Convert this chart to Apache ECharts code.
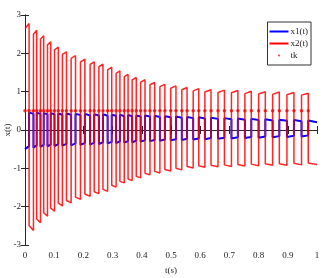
<!DOCTYPE html>
<html>
<head>
<meta charset="utf-8">
<script src="https://cdn.jsdelivr.net/npm/echarts@6/dist/echarts.min.js"></script>
<style>html,body{margin:0;padding:0;background:#fff}#c{width:331px;height:278px}</style>
</head>
<body>
<div id="c"></div>
<script>
// switching instants (s): rise of x2 (start of high segment) and fall of x2
const riseT = [0, 0.029, 0.053, 0.077, 0.101, 0.128, 0.158, 0.190, 0.223, 0.253, 0.283, 0.312, 0.340, 0.367, 0.396, 0.428, 0.462, 0.499, 0.537, 0.576, 0.616, 0.661, 0.707, 0.753, 0.800, 0.848, 0.897, 0.947];
const fallT = [0.014, 0.040, 0.064, 0.088, 0.114, 0.142, 0.173, 0.205, 0.237, 0.267, 0.297, 0.325, 0.353, 0.381, 0.411, 0.444, 0.479, 0.517, 0.555, 0.595, 0.637, 0.683, 0.729, 0.775, 0.823, 0.871, 0.921, 0.970];
const endT = 1.0;
// x2 levels per pulse
const x2HighStart = [2.65, 2.50, 2.37, 2.22, 2.09, 1.97, 1.87, 1.78, 1.71, 1.65, 1.57, 1.48, 1.39, 1.31, 1.25, 1.18, 1.13, 1.09, 1.05, 1.02, 0.99, 0.98, 0.97, 0.95, 0.94, 0.93, 0.92, 0.91];
const x2HighEnd   = [2.78, 2.60, 2.46, 2.30, 2.16, 2.04, 1.94, 1.85, 1.78, 1.72, 1.64, 1.54, 1.45, 1.37, 1.31, 1.24, 1.19, 1.15, 1.11, 1.08, 1.05, 1.04, 1.03, 1.01, 1.00, 0.99, 0.98, 0.96];
const x2LowStart  = [-2.50, -2.32, -2.16, -2.04, -1.91, -1.84, -1.75, -1.67, -1.61, -1.55, -1.44, -1.34, -1.28, -1.21, -1.13, -1.08, -1.03, -1.00, -0.95, -0.93, -0.92, -0.91, -0.90, -0.89, -0.88, -0.88, -0.87, -0.86];
const x2LowEnd    = [-2.62, -2.42, -2.25, -2.12, -1.98, -1.90, -1.81, -1.73, -1.66, -1.60, -1.49, -1.38, -1.32, -1.25, -1.17, -1.12, -1.07, -1.04, -0.99, -0.97, -0.96, -0.95, -0.94, -0.93, -0.92, -0.92, -0.91, -0.90];
// x1 levels per pulse
const x1LowStart  = [-0.50, -0.46, -0.44, -0.43, -0.42, -0.41, -0.40, -0.39, -0.38, -0.37, -0.35, -0.34, -0.33, -0.32, -0.30, -0.29, -0.28, -0.27, -0.26, -0.25, -0.24, -0.23, -0.22, -0.21, -0.20, -0.19, -0.18, -0.17];
const x1LowEnd    = [-0.42, -0.40, -0.39, -0.38, -0.37, -0.36, -0.35, -0.34, -0.33, -0.32, -0.31, -0.30, -0.29, -0.28, -0.27, -0.26, -0.25, -0.24, -0.23, -0.22, -0.21, -0.20, -0.19, -0.18, -0.17, -0.16, -0.15, -0.14];
const x1HighStart = [0.46, 0.45, 0.44, 0.44, 0.43, 0.43, 0.42, 0.42, 0.41, 0.41, 0.40, 0.40, 0.39, 0.38, 0.38, 0.37, 0.36, 0.35, 0.34, 0.33, 0.32, 0.31, 0.30, 0.29, 0.28, 0.27, 0.26, 0.25];
const x1HighEnd   = [0.42, 0.42, 0.41, 0.41, 0.40, 0.40, 0.39, 0.38, 0.38, 0.37, 0.37, 0.36, 0.36, 0.35, 0.35, 0.34, 0.33, 0.32, 0.31, 0.30, 0.29, 0.28, 0.27, 0.26, 0.25, 0.24, 0.23, 0.20];
const tkLevel = 0.5;
const xTicks = [0, 0.1, 0.2, 0.3, 0.4, 0.5, 0.6, 0.7, 0.8, 0.9, 1];
const yTicks = [-3, -2, -1, 0, 1, 2, 3];

function buildPath(aStart, aEnd, bStart, bEnd) {
  const pts = [];
  for (let k = 0; k < riseT.length; k++) {
    const next = k + 1 < riseT.length ? riseT[k + 1] : endT;
    pts.push([riseT[k], aStart[k]]);
    pts.push([fallT[k], aEnd[k]]);
    pts.push([fallT[k], bStart[k]]);
    pts.push([next, bEnd[k]]);
  }
  return pts;
}
const x2Data = buildPath(x2HighStart, x2HighEnd, x2LowStart, x2LowEnd);
const x1Data = buildPath(x1LowStart, x1LowEnd, x1HighStart, x1HighEnd);
const tkData = riseT.concat(fallT).sort((a, b) => a - b).map(t => [t, tkLevel]);

const font = 'Liberation Serif, Times New Roman, serif';
const axisCol = '#262626';
function xAx(extra) {
  return Object.assign({
    type: 'value', min: xTicks[0], max: xTicks[xTicks.length - 1], interval: 0.1,
    axisLine: { show: true, lineStyle: { color: axisCol, width: 1 } },
    axisTick: { show: true, inside: true, length: 4, lineStyle: { color: axisCol } },
    splitLine: { show: false }
  }, extra);
}
function yAx(extra) {
  return Object.assign({
    type: 'value', min: yTicks[0], max: yTicks[yTicks.length - 1], interval: 1,
    axisLine: { show: true, lineStyle: { color: axisCol, width: 1 } },
    axisTick: { show: true, inside: true, length: 4, lineStyle: { color: axisCol } },
    splitLine: { show: false }
  }, extra);
}
const chart = echarts.init(document.getElementById('c'), null, { renderer: 'canvas' });
chart.setOption({
  animation: false,
  backgroundColor: '#fff',
  grid: { left: 25, right: 14, top: 15, bottom: 33, containLabel: false, outerBoundsMode: 'none' },
  xAxis: [
    xAx({ position: 'bottom',
      axisLabel: { fontFamily: font, fontSize: 9, color: '#222', margin: 6, formatter: v => String(Math.round(v * 10) / 10) },
      name: 't(s)', nameLocation: 'middle', nameGap: 21, nameMoveOverlap: false,
      nameTextStyle: { fontFamily: font, fontSize: 9, color: '#222' } }),
    xAx({ position: 'top', axisLabel: { show: false } })
  ],
  yAxis: [
    yAx({ position: 'left',
      axisLabel: { fontFamily: font, fontSize: 9, color: '#222', margin: 4 },
      name: 'x(t)', nameLocation: 'middle', nameGap: 13, nameRotate: 90, nameMoveOverlap: false,
      nameTextStyle: { fontFamily: font, fontSize: 9, color: '#222' } }),
    yAx({ position: 'right', axisLabel: { show: false } })
  ],
  legend: {
    orient: 'vertical', right: 20, top: 22,
    backgroundColor: '#fff', borderColor: '#333', borderWidth: 1, borderRadius: 0,
    padding: [5, 3, 5, 2], itemGap: 3, itemWidth: 19, itemHeight: 2,
    textStyle: { fontFamily: font, fontSize: 9, color: '#222', padding: [0, 0, 0, -3] },
    data: [{ name: 'x1(t)', icon: 'rect' }, { name: 'x2(t)', icon: 'rect' }, { name: 'tk', icon: 'circle' }]
  },
  series: [
    { name: 'x1(t)', type: 'line', data: x1Data, showSymbol: false, symbol: 'none',
      lineStyle: { color: '#0000ff', width: 2 }, itemStyle: { color: '#0000ff' }, z: 2 },
    { name: 'x2(t)', type: 'line', data: x2Data, showSymbol: false, symbol: 'none',
      lineStyle: { color: '#ff0000', width: 1.5, opacity: 0.85 }, itemStyle: { color: '#ff0000' }, z: 3 },
    { name: 'tk', type: 'scatter', data: tkData, symbolSize: 3.5,
      itemStyle: { color: '#ff0000' }, z: 4 }
  ]
});
</script>
</body>
</html>
